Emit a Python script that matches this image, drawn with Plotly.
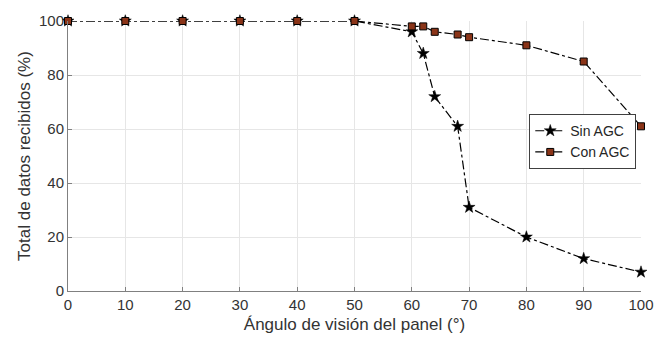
import plotly.graph_objects as go

angles = [0, 10, 20, 30, 40, 50, 60, 62, 64, 68, 70, 80, 90, 100]
sin_agc = [100, 100, 100, 100, 100, 100, 96, 88, 72, 61, 31, 20, 12, 7]
con_agc = [100, 100, 100, 100, 100, 100, 98, 98, 96, 95, 94, 91, 85, 61]
x_ticks = [0, 10, 20, 30, 40, 50, 60, 70, 80, 90, 100]
y_ticks = [0, 20, 40, 60, 80, 100]

fig = go.Figure()
fig.add_trace(go.Scatter(
    x=angles, y=sin_agc, name="Sin AGC", mode="lines+markers",
    line=dict(color="black", width=1.2, dash="dashdot"),
    marker=dict(symbol="star", size=9, color="black", line=dict(color="black", width=0.5)),
    cliponaxis=False,
))
fig.add_trace(go.Scatter(
    x=angles, y=con_agc, name="Con AGC", mode="lines+markers",
    line=dict(color="black", width=1.2, dash="dashdot"),
    marker=dict(symbol="square", size=7, color="#8a3418", line=dict(color="black", width=1)),
    cliponaxis=False,
))

font_family = "Liberation Sans, Arial, sans-serif"
fig.update_layout(
    width=667, height=345,
    margin=dict(l=68, r=26, t=17, b=54),
    paper_bgcolor="white", plot_bgcolor="white",
    font=dict(family=font_family, color="#333333", size=15),
    legend=dict(
        x=0.805, y=0.655, xanchor="left", yanchor="top",
        bgcolor="white", bordercolor="#404040", borderwidth=1,
        font=dict(size=14, color="#262626"), tracegroupgap=0, itemwidth=30,
    ),
    showlegend=True,
)
fig.update_xaxes(
    range=[0, 100], tickvals=x_ticks, showgrid=True, gridcolor="#e6e6e6",
    showline=True, linecolor="#808080", linewidth=1, zeroline=False,
    ticks="inside", ticklen=4, tickcolor="#808080",
    title=dict(text="Ángulo de visión del panel (°)", font=dict(size=17), standoff=6),
    tickfont=dict(size=15),
)
fig.update_yaxes(
    range=[0, 100], tickvals=y_ticks, showgrid=True, gridcolor="#e6e6e6",
    showline=True, linecolor="#808080", linewidth=1, zeroline=False,
    ticks="inside", ticklen=4, tickcolor="#808080",
    title=dict(text="Total de datos recibidos (%)", font=dict(size=17), standoff=4),
    tickfont=dict(size=15),
)

fig.write_html("out.html")
